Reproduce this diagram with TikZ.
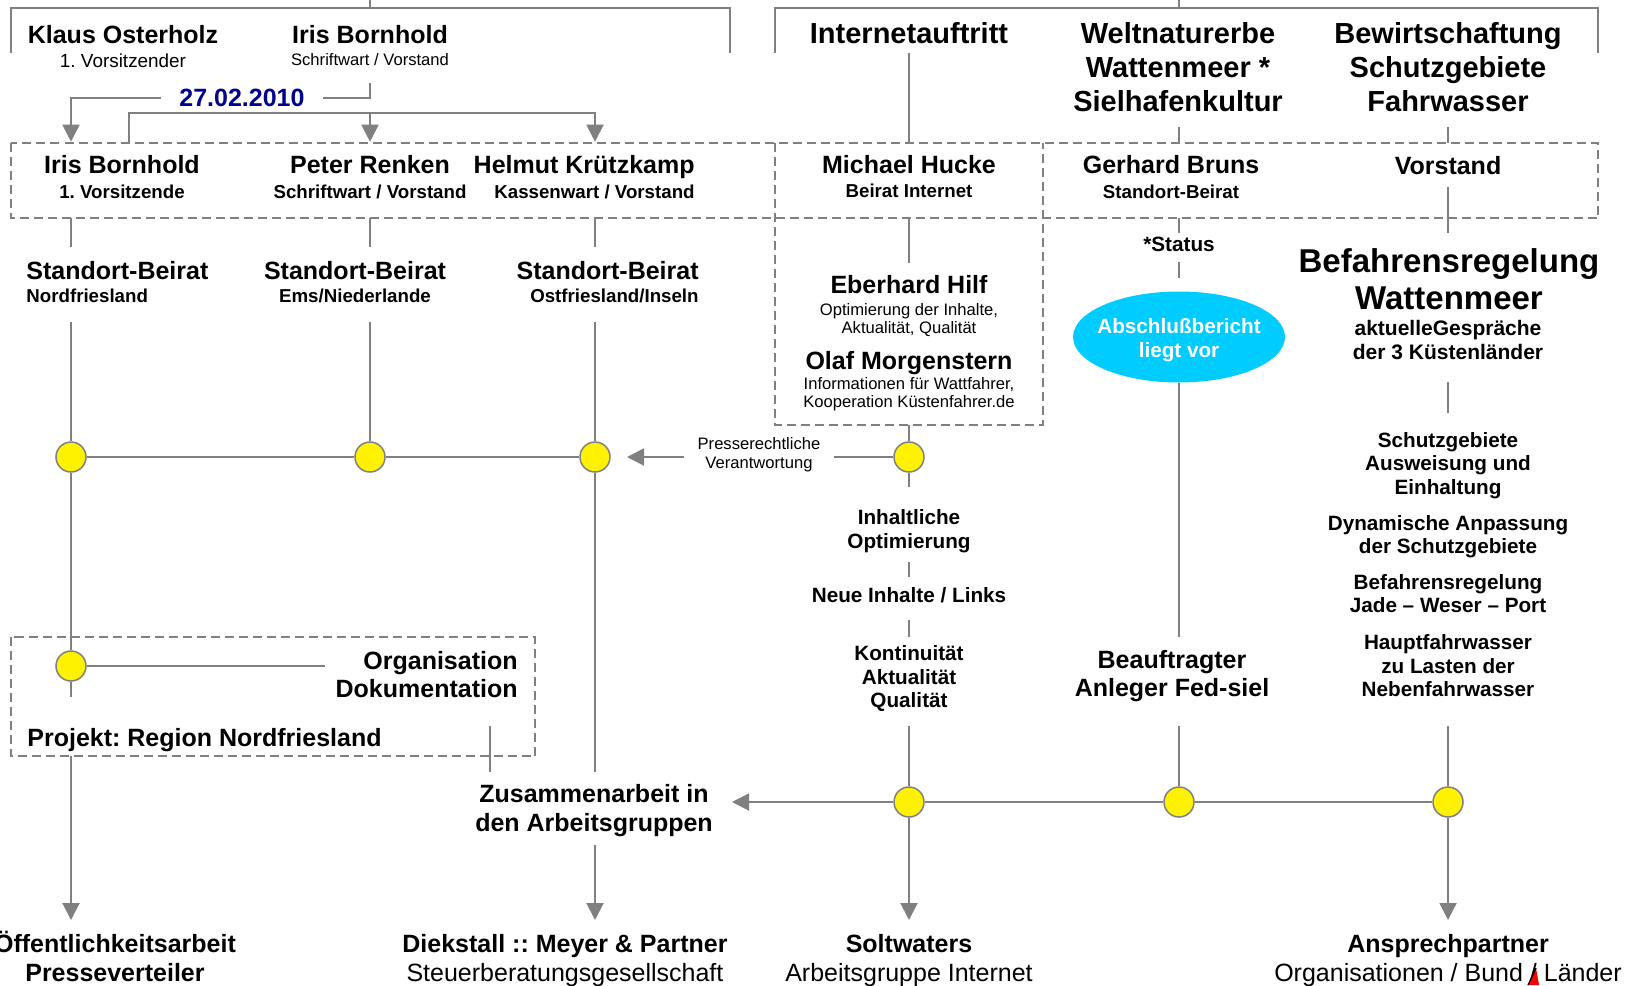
\documentclass[tikz,border=0pt]{standalone}
\usepackage{fontspec}
\setmainfont{Liberation Sans}
\usetikzlibrary{arrows.meta,shapes.geometric}
\definecolor{lgray}{RGB}{128,128,128}
\definecolor{navyc}{RGB}{0,0,140}
\definecolor{cyanc}{RGB}{0,204,255}
\newcommand\myfs[2]{\fontsize{#1}{#2}\selectfont}
\frenchspacing
\begin{document}
\begin{tikzpicture}[x=0.5pt,y=-0.5pt,
  ln/.style={draw=lgray, line width=1pt},
  arr/.style={ln, -{Triangle[width=8.5pt,length=8.5pt]}},
  dbox/.style={draw=lgray, line width=1pt, dash pattern=on 4.5pt off 2.5pt},
  ydot/.style={circle, draw=lgray, line width=0.75pt, fill=yellow, minimum size=15pt, inner sep=0pt},
  tA/.style={font=\bfseries\myfs{12.5}{14.5}, inner sep=0pt, align=center},
  tB/.style={font=\bfseries\myfs{14.5}{17}, inner sep=0pt, align=center},
  tC/.style={font=\bfseries\myfs{16.5}{18.2}, inner sep=0pt, align=center},
  tD/.style={font=\bfseries\myfs{10.35}{11.75}, inner sep=0pt, align=center},
  tE/.style={font=\bfseries\myfs{9.35}{11}, inner sep=0pt},
  tF/.style={font=\myfs{8.3}{9.2}, inner sep=0pt, align=center},
  tG/.style={font=\myfs{9.45}{11}, inner sep=0pt},
  tH/.style={font=\myfs{12.5}{14.5}, inner sep=0pt}]
\useasboundingbox (0,0) rectangle (1626,985);
\fill[white] (0,0) rectangle (1626,985);

% ---------- dashed boxes ----------
\coordinate (bx1) at (10.5,143); \coordinate (bx2) at (1598,218);
\draw[dbox] (bx1) rectangle (bx2);
\coordinate (ib1) at (775,143); \coordinate (ib2) at (775,425);
\coordinate (ib3) at (1043,425); \coordinate (ib4) at (1043,143);
\draw[dbox] (ib1) -- (ib2) -- (ib3) -- (ib4);
\coordinate (ob1) at (10.5,637); \coordinate (ob2) at (535,756);
\draw[dbox] (ob1) rectangle (ob2);

% ---------- top brackets ----------
\coordinate (tlTop) at (370,0); \coordinate (tlJ) at (370,7.5);
\coordinate (tlA) at (10.5,7.5); \coordinate (tlB) at (730,7.5);
\coordinate (tlL) at (10.5,53); \coordinate (tlR) at (730,53);
\draw[ln] (tlTop) -- (tlJ);
\draw[ln] (tlL) -- (tlA) -- (tlB) -- (tlR);
\coordinate (trTop) at (1179,0); \coordinate (trJ) at (1179,7.5);
\coordinate (trA) at (775,7.5); \coordinate (trB) at (1598,7.5);
\coordinate (trL) at (775,53); \coordinate (trR) at (1598,53);
\draw[ln] (trTop) -- (trJ);
\draw[ln] (trL) -- (trA) -- (trB) -- (trR);

% ---------- top texts ----------
\node[tA, anchor=base] (klaus) at (123,43) {Klaus Osterholz};
\node[tG, anchor=base] (klausS) at (123,67) {1. Vorsitzender};
\node[tA, anchor=base] (irisA) at (370,43) {Iris Bornhold};
\node[tF, anchor=base] (irisAS) at (370,65) {Schriftwart / Vorstand};
\node[tB, anchor=base] (internet) at (909,43) {Internetauftritt};
\node[tB, anchor=north] (welt) at (1178,22) {Weltnaturerbe\\Wattenmeer *\\Sielhafenkultur};
\node[tB, anchor=north] (bew) at (1448,22) {Bewirtschaftung\\Schutzgebiete\\Fahrwasser};

% ---------- date connector ----------
\coordinate (dS) at (370,83); \coordinate (dC) at (370,98);
\coordinate (dL) at (71,98); \coordinate (dT) at (71,141.7);
\draw[arr] (dS) -- (dC) -- (dL) -- (dT);
\node[tA, text=navyc, fill=white, inner xsep=9pt] (date) at (242,97.5) {27.02.2010};
\coordinate (b2s) at (129,143); \coordinate (b2a) at (129,113);
\coordinate (b2b) at (595,113); \coordinate (b2m) at (370,113);
\coordinate (b2t3) at (595,141.7); \coordinate (b2t2) at (370,141.7);
\draw[arr] (b2s) -- (b2a) -- (b2b) -- (b2t3);
\draw[arr] (b2m) -- (b2t2);

% ---------- box row ----------
\node[tA, anchor=base] (iris) at (122,173) {Iris Bornhold};
\node[tE, anchor=base] (irisS) at (122,198) {1. Vorsitzende};
\node[tA, anchor=base] (peter) at (370,173) {Peter Renken};
\node[tE, anchor=base] (peterS) at (370,198) {Schriftwart / Vorstand};
\node[tA, anchor=base east] (helmut) at (695,173) {Helmut Krützkamp};
\node[tE, anchor=base east] (helmutS) at (695,198) {Kassenwart / Vorstand};
\node[tA, anchor=base] (michael) at (909,173) {Michael Hucke};
\node[tE, anchor=base] (michaelS) at (909,197) {Beirat Internet};
\node[tA, anchor=base] (gerhard) at (1171,173) {Gerhard Bruns};
\node[tE, anchor=base] (gerhardS) at (1171,198) {Standort-Beirat};
\node[tA, anchor=base] (vorstand) at (1448,174) {Vorstand};

% header connectors
\coordinate (h1a) at (909,53); \coordinate (h1b) at (909,143);
\draw[ln] (h1a) -- (h1b);
\coordinate (h2a) at (1179,127); \coordinate (h2b) at (1179,143);
\draw[ln] (h2a) -- (h2b);
\coordinate (h3a) at (1448,127); \coordinate (h3b) at (1448,143);
\draw[ln] (h3a) -- (h3b);

% ---------- Standort-Beirat row ----------
\node[tA, anchor=base west] (sb1) at (26,279) {Standort-Beirat};
\node[tE, anchor=base west] (sb1S) at (26,302) {Nordfriesland};
\node[tA, anchor=base] (sb2) at (355,279) {Standort-Beirat};
\node[tE, anchor=base] (sb2S) at (355,302) {Ems/Niederlande};
\node[tA, anchor=base east] (sb3) at (699,279) {Standort-Beirat};
\node[tE, anchor=base east] (sb3S) at (699,302) {Ostfriesland/Inseln};

% dots
\node[ydot] (d1) at (71,457) {};
\node[ydot] (d2) at (370,457) {};
\node[ydot] (d3) at (595,457) {};
\node[ydot] (d4) at (909,457) {};
\node[ydot] (dOrg) at (71,666) {};
\node[ydot] (d5) at (909,802) {};
\node[ydot] (d6) at (1179,802) {};
\node[ydot] (d7) at (1448,802) {};

% column 1
\coordinate (c1a) at (71,218); \coordinate (c1b) at (71,247);
\coordinate (c1c) at (71,322); \coordinate (c1d) at (71,697);
\coordinate (c1e) at (71,756); \coordinate (c1t) at (71,920);
\draw[ln] (c1a) -- (c1b);
\draw[ln] (c1c) -- (d1);
\draw[ln] (d1) -- (dOrg);
\draw[ln] (dOrg) -- (c1d);
\draw[arr] (c1e) -- (c1t);
\coordinate (orgL) at (325,666);
\draw[ln] (dOrg) -- (orgL);
% column 2
\coordinate (c2a) at (370,218); \coordinate (c2b) at (370,247);
\coordinate (c2c) at (370,322);
\draw[ln] (c2a) -- (c2b);
\draw[ln] (c2c) -- (d2);
% column 3
\coordinate (c3a) at (595,218); \coordinate (c3b) at (595,247);
\coordinate (c3c) at (595,322); \coordinate (c3d) at (595,772);
\coordinate (c3e) at (595,845); \coordinate (c3t) at (595,920);
\draw[ln] (c3a) -- (c3b);
\draw[ln] (c3c) -- (d3);
\draw[ln] (d3) -- (c3d);
\draw[arr] (c3e) -- (c3t);
% row 1
\draw[ln] (d1) -- (d2);
\draw[ln] (d2) -- (d3);
\coordinate (pTip) at (627,457);
\draw[arr] (d4) -- (pTip);
\node[tF, font=\myfs{8.3}{9.5}, fill=white, inner xsep=7pt] (presse) at (759,455) {Presserechtliche\\Verantwortung};

% ---------- Internet column ----------
\node[tA, anchor=base] (eberhard) at (909,293) {Eberhard Hilf};
\node[tF, anchor=north] (eberhardS) at (909,303) {Optimierung der Inhalte,\\Aktualität, Qualität};
\node[tA, anchor=base] (olaf) at (909,369) {Olaf Morgenstern};
\node[tF, anchor=north] (olafS) at (909,377) {Informationen für Wattfahrer,\\Kooperation Küstenfahrer.de};
\coordinate (c4a) at (909,218); \coordinate (c4b) at (909,263);
\coordinate (c4c) at (909,425); \coordinate (c4d) at (909,487);
\coordinate (c4e) at (909,562); \coordinate (c4f) at (909,577);
\coordinate (c4g) at (909,620); \coordinate (c4h) at (909,637);
\coordinate (c4i) at (909,726); \coordinate (c4t) at (909,920);
\draw[ln] (c4a) -- (c4b);
\draw[ln] (c4c) -- (d4);
\draw[ln] (d4) -- (c4d);
\draw[ln] (c4e) -- (c4f);
\draw[ln] (c4g) -- (c4h);
\draw[ln] (c4i) -- (d5);
\draw[arr] (d5) -- (c4t);
\node[tD, anchor=north] (inhalt) at (909,509.5) {Inhaltliche\\Optimierung};
\node[tD, anchor=base] (neue) at (909,602.5) {Neue Inhalte / Links};
\node[tD, anchor=north] (konti) at (909,645.5) {Kontinuität\\Aktualität\\Qualität};

% ---------- Status column ----------
\node[tD, anchor=base] (status) at (1179,251.5) {*Status};
\node[ellipse, fill=cyanc, minimum width=106pt, minimum height=45.5pt, inner sep=0pt] (abs) at (1179,337) {};
\node[tD, text=white, font=\bfseries\myfs{10.35}{11.7}, anchor=north] (absT) at (1179,318.5) {Abschlußbericht\\liegt vor};
\coordinate (c5a) at (1179,218); \coordinate (c5b) at (1179,233);
\coordinate (c5c) at (1179,262); \coordinate (c5d) at (1179,278);
\coordinate (c5e) at (1179,637); \coordinate (c5f) at (1179,726);
\draw[ln] (c5a) -- (c5b);
\draw[ln] (c5c) -- (c5d);
\draw[ln] (abs) -- (c5e);
\draw[ln] (c5f) -- (d6);
\node[tA, font=\bfseries\myfs{12.5}{14}, anchor=north] (beauf) at (1172,650) {Beauftragter\\Anleger Fed-siel};

% ---------- Bewirtschaftung column ----------
\node[tC, anchor=north] (befa) at (1449,248.5) {Befahrensregelung\\Wattenmeer};
\node[tD, font=\bfseries\myfs{10.5}{11.9}, anchor=north] (aktu) at (1448,320) {aktuelleGespräche\\der 3 Küstenländer};
\node[tD, anchor=north] (schutz) at (1448,432) {Schutzgebiete\\Ausweisung und\\Einhaltung};
\node[tD, anchor=north] (dyn) at (1448,515) {Dynamische Anpassung\\der Schutzgebiete};
\node[tD, anchor=north] (jade) at (1448,574) {Befahrensregelung\\Jade – Weser – Port};
\node[tD, anchor=north] (haupt) at (1448,634.5) {Hauptfahrwasser\\zu Lasten der\\Nebenfahrwasser};
\coordinate (c6a) at (1448,187); \coordinate (c6b) at (1448,233);
\coordinate (c6c) at (1448,382); \coordinate (c6d) at (1448,413);
\coordinate (c6e) at (1448,726); \coordinate (c6t) at (1448,920);
\draw[ln] (c6a) -- (c6b);
\draw[ln] (c6c) -- (c6d);
\draw[ln] (c6e) -- (d7);
\draw[arr] (d7) -- (c6t);

% row 2
\coordinate (r2tip) at (732,802);
\draw[ln] (d7) -- (d6);
\draw[ln] (d6) -- (d5);
\draw[arr] (d5) -- (r2tip);
\node[tA, anchor=north] (zus) at (594,784) {Zusammenarbeit in\\den Arbeitsgruppen};
\coordinate (zl1) at (490,726); \coordinate (zl2) at (490,772);
\draw[ln] (zl1) -- (zl2);

% ---------- Organisation box ----------
\node[tA, font=\bfseries\myfs{12.5}{14}, anchor=north east, align=right] (orgdok) at (518,651) {Organisation\\Dokumentation};
\node[tA, anchor=base west] (projekt) at (27,746) {Projekt: Region Nordfriesland};

% ---------- bottom ----------
\node[tA, anchor=base] (oeff) at (115,952) {Öffentlichkeitsarbeit};
\node[tA, anchor=base] (pressev) at (115,981) {Presseverteiler};
\node[tA, anchor=base] (diek) at (565,952) {Diekstall :: Meyer \& Partner};
\node[tH, anchor=base] (steuer) at (565,981) {Steuerberatungsgesellschaft};
\node[tA, anchor=base] (solt) at (909,952) {Soltwaters};
\node[tH, anchor=base] (agi) at (909,981) {Arbeitsgruppe Internet};
\node[tA, anchor=base] (ansp) at (1448,952) {Ansprechpartner};
\node[tH, anchor=base] (orgbl) at (1448,981) {Organisationen / Bund / Länder};
\fill[red] (1528,985) -- (1536,968) -- (1539,985) -- cycle;
\draw[black, line width=0.6pt] (1528,985) -- (1536,968);
\end{tikzpicture}
\end{document}
